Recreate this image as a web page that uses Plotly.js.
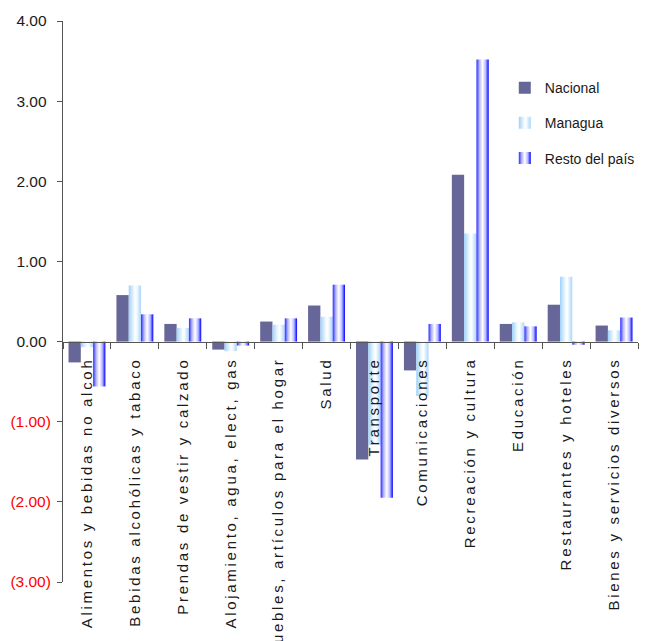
<!DOCTYPE html>
<html><head><meta charset="utf-8">
<script src="https://cdn.plot.ly/plotly-3.0.1.min.js"></script>
<style>
html,body{margin:0;padding:0;background:#fff}
#chart{width:645px;height:641px}
.xaxislayer-above .xtick text{letter-spacing:2.7px}
</style></head><body><div id="chart"></div>
<script>
const categories = [
  'Alimentos y bebidas no alcoh',
  'Bebidas alcohólicas y tabaco',
  'Prendas de vestir y calzado',
  'Alojamiento, agua, elect, gas',
  'Muebles, artículos para el hogar',
  'Salud',
  'Transporte',
  'Comunicaciones',
  'Recreación y cultura',
  'Educación',
  'Restaurantes y hoteles',
  'Bienes y servicios diversos'
];
const nacional = [-0.26, 0.58, 0.22, -0.10, 0.25, 0.45, -1.47, -0.36, 2.08, 0.22, 0.46, 0.20];
const managua  = [-0.07, 0.70, 0.17, -0.12, 0.21, 0.31, -1.29, -0.68, 1.35, 0.24, 0.81, 0.14];
const resto    = [-0.56, 0.34, 0.29, -0.05, 0.29, 0.71, -1.95, 0.22, 3.52, 0.19, -0.04, 0.30];
const seriesNames = ['Nacional', 'Managua', 'Resto del país'];
const yTickVals = [4, 3, 2, 1, 0, -1, -2, -3];
const yTickText = ['4.00\u00a0', '3.00\u00a0', '2.00\u00a0', '1.00\u00a0', '0.00\u00a0',
  '<span style="color:#ff0000">(1.00)</span>',
  '<span style="color:#ff0000">(2.00)</span>',
  '<span style="color:#ff0000">(3.00)</span>'];

const FONT = 'Liberation Sans, Arial, sans-serif';
const traces = [
  {name: seriesNames[0], x: categories, y: nacional, type: 'bar', legendgroup: 'a',
   marker: {color: '#666699'}},
  {name: seriesNames[1], x: categories, y: managua, type: 'bar', legendgroup: 'b',
   marker: {color: '#b8dcfa'}},
  {name: seriesNames[2], x: categories, y: resto, type: 'bar', legendgroup: 'c',
   marker: {color: '#7a7aff'}}
];
const layout = {
  width: 645, height: 641,
  margin: {l: 63, r: 6, t: 21, b: 59},
  paper_bgcolor: '#fff', plot_bgcolor: '#fff',
  font: {family: FONT, size: 14, color: '#1a1a1a'},
  barmode: 'group', bargap: 0.23, bargroupgap: 0,
  showlegend: true,
  legend: {x: 0.767, y: 0.909, xanchor: 'left', yanchor: 'top',
    bgcolor: 'rgba(0,0,0,0)', font: {family: FONT, size: 14, color: '#1a1a1a'},
    traceorder: 'grouped', tracegroupgap: 14, itemwidth: 30},
  xaxis: {type: 'category', anchor: 'free', position: 3/7,
    showline: true, linecolor: '#555', linewidth: 1,
    ticks: 'outside', tickson: 'boundaries', ticklen: 6, tickcolor: '#555',
    tickangle: -90, showgrid: false, zeroline: false,
    tickfont: {family: FONT, size: 15, color: '#1a1a1a'}, ticklabelstandoff: 9},
  yaxis: {range: [-3, 4], tickvals: yTickVals, ticktext: yTickText,
    showline: true, linecolor: '#555', linewidth: 1,
    ticks: 'outside', ticklen: 5, tickcolor: '#555',
    showgrid: false, zeroline: false, ticklabelstandoff: 3,
    tickfont: {family: FONT, size: 15.5, color: '#1a1a1a'}}
};

Plotly.newPlot('chart', traces, layout, {displayModeBar: false, staticPlot: true}).then(function (gd) {
  const svg = gd.querySelector('svg.main-svg');
  const ns = 'http://www.w3.org/2000/svg';
  let defs = svg.querySelector('defs');
  if (!defs) { defs = document.createElementNS(ns, 'defs'); svg.insertBefore(defs, svg.firstChild); }
  function grad(id, stops) {
    const g = document.createElementNS(ns, 'linearGradient');
    g.setAttribute('id', id);
    g.setAttribute('x1', '0'); g.setAttribute('y1', '0');
    g.setAttribute('x2', '1'); g.setAttribute('y2', '0');
    stops.forEach(function (s) {
      const st = document.createElementNS(ns, 'stop');
      st.setAttribute('offset', s[0]); st.setAttribute('stop-color', s[1]);
      g.appendChild(st);
    });
    defs.appendChild(g);
  }
  grad('gManagua', [['0', '#9fd0fb'], ['0.45', '#f4faff'], ['0.6', '#ffffff'], ['1', '#a9d5fb']]);
  grad('gResto', [['0', '#2a2aff'], ['0.25', '#b8b8ff'], ['0.5', '#ffffff'], ['0.75', '#b8b8ff'], ['1', '#0000ff']]);
  const barTraces = gd.querySelectorAll('.barlayer .trace.bars');
  const ids = [null, 'gManagua', 'gResto'];
  barTraces.forEach(function (t, i) {
    if (!ids[i]) return;
    t.querySelectorAll('path').forEach(function (p) { p.style.fill = 'url(#' + ids[i] + ')'; });
  });
  const legTraces = gd.querySelectorAll('.legend .traces');
  legTraces.forEach(function (t, i) {
    if (!ids[i]) return;
    t.querySelectorAll('.legendpoints path').forEach(function (p) { p.style.fill = 'url(#' + ids[i] + ')'; });
  });
});
</script>
</body></html>
